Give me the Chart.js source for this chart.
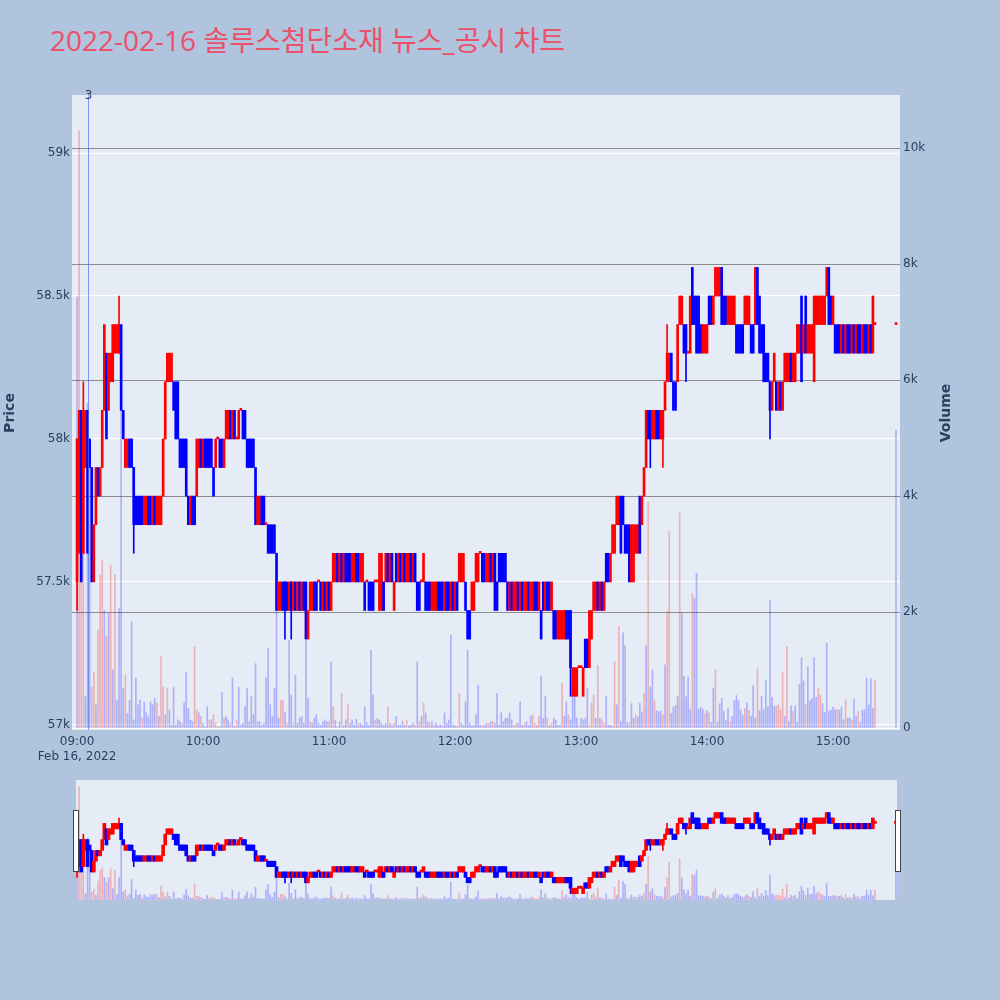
<!DOCTYPE html>
<html>
<head>
<meta charset="utf-8">
<script src="https://cdn.jsdelivr.net/npm/chart.js@4.4.1/dist/chart.umd.min.js"></script>
<style>
  html, body { margin: 0; padding: 0; background: #b0c4de; }
  #wrap { position: relative; width: 1000px; height: 1000px; }
  #title {
    position: absolute; left: 50px; top: 23px;
    font-family: "Open Sans", "Noto Sans CJK KR", sans-serif;
    font-size: 28px; line-height: 34px;
    color: rgb(235, 80, 105); white-space: nowrap;
  }
  canvas { position: absolute; left: 0; }
</style>
</head>
<body>
<div id="wrap">
  <div id="title">2022-02-16 솔루스첨단소재 뉴스_공시 차트</div>
  <canvas id="main" width="1000" height="775" style="top:0"></canvas>
  <canvas id="mini" width="1000" height="140" style="top:770px"></canvas>
</div>
<script>
// one candle per minute from 09:00 (index = minutes after 09:00)
const opens = [
  57500,57600,58100,57600,57900,58100,58000,57900,57500,57700,
  57900,57800,57900,58100,58300,58100,58200,58200,58300,58300,
  58300,58400,58100,57900,57900,58000,58000,57900,57800,57800,
  57800,57800,57700,57700,57800,57800,57700,57800,57700,57700,
  57700,57800,58000,58200,58200,58200,58200,58200,58200,58000,
  58000,58000,58000,57800,57700,57800,57800,57800,57900,58000,
  57900,58000,58000,58000,58000,57900,57900,58000,58000,58000,
  57900,58000,58000,58100,58000,58100,58000,58000,58100,58100,
  58100,58000,58000,58000,58000,57900,57700,57700,57800,57800,
  57700,57700,57700,57700,57700,57600,57400,57400,57500,57500,
  57500,57400,57500,57400,57500,57400,57500,57400,57500,57500,
  57300,57400,57400,57500,57500,57500,57500,57400,57500,57400,
  57500,57400,57500,57500,57600,57500,57600,57500,57600,57600,
  57600,57500,57500,57600,57600,57500,57500,57500,57500,57500,
  57500,57500,57500,57500,57400,57400,57500,57500,57600,57500,
  57600,57400,57600,57500,57600,57500,57600,57500,57500,57600,
  57500,57600,57500,57500,57500,57500,57500,57500,57500,57400,
  57400,57400,57500,57500,57500,57400,57500,57500,57400,57500,
  57400,57500,57500,57500,57500,57500,57400,57400,57400,57400,
  57500,57500,57600,57600,57600,57500,57500,57600,57500,57600,
  57500,57600,57600,57600,57600,57500,57400,57500,57400,57400,
  57500,57400,57500,57400,57400,57500,57400,57400,57500,57500,
  57400,57400,57500,57400,57500,57500,57400,57400,57400,57300,
  57300,57300,57300,57400,57400,57400,57100,57100,57100,57200,
  57200,57100,57300,57300,57200,57300,57400,57400,57500,57400,
  57500,57400,57600,57600,57500,57600,57600,57700,57700,57800,
  57800,57700,57700,57700,57500,57500,57600,57600,57800,57700,
  57800,57900,58100,58100,58000,58000,58100,58100,58000,58000,
  58100,58200,58200,58300,58200,58200,58200,58400,58400,58400,
  58400,58300,58300,58600,58500,58500,58500,58400,58300,58300,
  58300,58500,58500,58400,58500,58500,58500,58600,58500,58500,
  58400,58400,58400,58400,58400,58400,58400,58400,58400,58400,
  58400,58400,58400,58400,58600,58500,58400,58400,58300,58300,
  58200,58100,58200,58200,58100,58200,58100,58200,58200,58200,
  58300,58200,58200,58300,58300,58500,58300,58500,58300,58300,
  58300,58200,58400,58400,58400,58400,58400,58500,58600,58500,
  58400,58400,58400,58400,58300,58400,58300,58400,58400,58300,
  58400,58300,58400,58400,58300,58400,58400,58300,58400,58300,
  58400
];
const closes = [
  58000,58100,57500,58100,58100,57600,57900,57500,57700,57900,
  57800,57900,58100,58400,58000,58300,58300,58400,58400,58400,
  58400,58100,58000,58000,58000,57900,57900,57700,57700,57700,
  57700,57700,57800,57800,57700,57700,57800,57700,57800,57800,
  57800,58000,58200,58300,58300,58300,58100,58000,58000,57900,
  57900,57900,57800,57700,57800,57700,57700,58000,58000,57900,
  58000,57900,57900,57900,57900,57800,58000,58000,57900,57900,
  58000,58100,58100,58000,58100,58000,58000,58100,58100,58000,
  58000,57900,57900,57900,57900,57700,57800,57800,57700,57700,
  57700,57600,57600,57600,57600,57400,57500,57500,57400,57400,
  57400,57500,57400,57500,57400,57500,57400,57500,57400,57300,
  57400,57500,57500,57400,57400,57500,57400,57500,57400,57500,
  57400,57500,57600,57600,57500,57600,57500,57600,57500,57500,
  57500,57600,57600,57500,57500,57600,57600,57400,57500,57400,
  57400,57400,57500,57500,57600,57600,57400,57600,57500,57600,
  57500,57500,57500,57600,57500,57600,57500,57600,57600,57500,
  57600,57500,57400,57400,57500,57600,57400,57400,57400,57500,
  57500,57500,57400,57400,57400,57500,57400,57400,57500,57400,
  57500,57400,57600,57600,57600,57400,57300,57300,57500,57500,
  57600,57600,57600,57500,57500,57600,57600,57500,57600,57400,
  57400,57500,57500,57500,57500,57400,57500,57400,57500,57500,
  57400,57500,57400,57500,57500,57400,57500,57500,57400,57400,
  57500,57300,57400,57500,57400,57400,57500,57300,57300,57400,
  57400,57400,57400,57300,57300,57200,57200,57200,57200,57200,
  57200,57200,57200,57200,57400,57400,57500,57500,57400,57500,
  57400,57500,57500,57500,57600,57700,57700,57800,57800,57600,
  57700,57600,57600,57500,57700,57700,57700,57700,57600,57800,
  57900,58100,58000,58000,58100,58100,58000,58000,58100,58100,
  58200,58300,58300,58200,58100,58100,58400,58500,58500,58300,
  58300,58300,58500,58400,58400,58300,58300,58300,58400,58400,
  58400,58400,58400,58500,58600,58600,58600,58400,58400,58400,
  58500,58500,58500,58500,58300,58300,58300,58300,58500,58500,
  58500,58300,58300,58600,58400,58300,58300,58200,58200,58200,
  58100,58200,58300,58100,58200,58100,58200,58300,58300,58300,
  58200,58300,58300,58400,58400,58200,58400,58300,58400,58400,
  58400,58500,58500,58500,58500,58500,58500,58600,58400,58400,
  58500,58300,58300,58300,58400,58300,58400,58300,58300,58400,
  58300,58400,58300,58300,58400,58300,58300,58400,58300,58500,
  58400
];
const volumes = [
  7430,10300,3500,4800,540,5600,4900,
  700,960,400,1690,2640,2900,2030,1580,1980,2810,
  1000,2640,480,2060,6300,680,910,250,480,1830,
  140,860,400,480,170,450,260,200,450,400,
  510,430,200,1230,700,230,680,310,50,700,
  50,140,110,80,430,960,340,140,110,1400,
  310,260,200,80,20,370,140,140,230,80,
  20,20,610,170,200,140,80,860,30,140,
  700,50,80,370,680,110,540,230,1110,110,
  110,50,80,860,1370,400,200,680,2120,170,
  480,480,260,80,1510,570,80,910,80,170,
  200,80,1510,510,110,80,170,230,80,50,
  110,140,110,110,1140,370,140,20,110,600,
  50,140,
  400,80,140,50,150,80,80,50,370,90,
  50,1340,570,140,170,140,80,50,80,370,
  80,50,80,200,50,50,120,50,140,40,
  50,80,50,1140,110,200,430,260,110,80,
  110,50,80,40,60,40,260,80,140,1600,
  60,40,40,600,80,50,450,1340,80,40,
  50,230,740,50,40,50,80,80,110,120,
  80,600,50,260,110,170,170,260,140,50,
  80,80,450,50,80,110,50,200,230,80,
  50,200,890,170,540,170,50,80,170,140,
  50,50,780,200,450,230,140,680,540,170,
  50,170,140,170,680,50,430,570,170,1080,
  170,140,80,540,50,50,40,1140,400,1750,
  110,
  1640,1420,90,90,420,170,230,190,430,280,
  600,1420,3900,710,1000,470,300,280,290,230,
  1090,2010,3390,250,360,390,550,3710,1980,890,
  540,880,320,2320,2240,2670,320,360,320,250,
  300,260,100,690,1000,100,420,510,290,130,
  340,110,200,470,560,470,310,220,340,430,
  310,200,730,170,1020,300,550,320,830,370,
  2200,530,370,380,400,310,960,200,1400,110,
  380,290,380,100,750,1210,810,400,1060,470,
  510,1210,530,690,570,420,270,1460,290,310,
  360,320,320,310,360,140,490,170,180,140,
  490,200,290,100,310,320,860,400,850,340,
  830
];
// 1 = red (up) volume bar, 0 = blue
const volumeUp = [
  0,1,1,1,0,0,0,
  1,1,0,1,1,1,0,1,0,1,
  0,1,0,0,0,0,1,0,0,0,
  0,0,0,0,1,0,0,0,0,0,
  0,1,0,1,1,0,1,0,0,0,
  0,0,0,1,0,0,0,0,0,1,
  1,0,1,0,0,0,1,0,1,1,
  0,0,0,1,0,0,1,0,0,1,
  0,0,0,0,0,0,0,0,0,0,
  0,0,0,0,0,0,0,0,0,0,
  1,1,0,1,0,0,1,0,0,0,
  0,0,0,0,1,0,0,0,0,0,
  0,0,0,1,0,1,0,0,0,1,
  0,0,
  1,0,0,0,0,1,0,0,0,0,
  0,0,0,1,0,0,0,0,0,1,
  0,0,1,0,0,0,0,0,1,0,
  0,0,1,0,1,0,1,0,0,1,
  0,1,0,0,0,1,0,0,0,0,
  0,0,1,1,0,0,0,0,0,0,
  0,0,0,0,1,0,0,1,0,1,
  0,0,0,0,0,0,0,0,0,1,
  1,0,0,0,1,0,0,0,1,1,
  0,1,0,0,0,1,0,1,0,0,
  0,0,1,0,0,1,0,0,0,0,
  1,0,0,0,0,1,1,1,0,1,
  0,1,1,0,0,0,1,1,0,1,
  0,
  0,0,0,1,0,0,1,0,0,0,
  1,0,1,0,0,1,0,0,0,1,
  0,1,1,0,0,0,0,1,0,0,
  0,0,0,1,0,0,0,0,0,1,
  0,1,0,0,1,0,0,0,0,0,
  0,1,0,0,0,0,0,0,1,0,
  1,0,0,0,1,0,0,0,0,0,
  0,0,0,1,1,1,1,0,1,0,
  0,1,0,0,0,0,0,1,0,0,
  0,0,0,1,1,0,0,0,0,0,
  0,0,1,0,0,0,1,0,0,1,
  0,0,1,0,0,0,0,0,0,0,
  1
];
// wicks where high/low go past the body
const wickMinutes = [0, 3, 20, 27, 99, 102, 235, 273, 279, 281, 290, 330];
const wickLows    = [57400, 57600, 58300, 57600, 57300, 57300, 57100, 57900, 57900, 58200, 58200, 58000];
const wickHighs   = [58000, 58200, 58500, 57900, 57500, 57500, 57400, 58100, 58100, 58400, 58400, 58200];

// 15:30 closing auction
const auctionMinute = 390;
const auctionOpen = 58400;
const auctionClose = 58400;
const auctionVolume = 5140;
const auctionUp = 0;

// news marker
const newsMinute = 5.4;
const newsLabel = '3';

const timeTicks = [0, 60, 120, 180, 240, 300, 360];
const timeLabels = ['09:00', '10:00', '11:00', '12:00', '13:00', '14:00', '15:00'];
const dateLabel = 'Feb 16, 2022';
const priceTicks = [57000, 57500, 58000, 58500, 59000];
const priceLabels = ['57k', '57.5k', '58k', '58.5k', '59k'];
const volumeTicks = [0, 2000, 4000, 6000, 8000, 10000];
const volumeLabels = ['0', '2k', '4k', '6k', '8k', '10k'];

const RED = '#ff0000', BLUE = '#0000ff';
const VOL_RED = 'rgba(255,0,0,0.25)', VOL_BLUE = 'rgba(0,0,255,0.25)';
const TEXT = '#2a3f5f';
const FONT = '"DejaVu Sans", Verdana, sans-serif';

function buildDatasets(bodyWidth) {
  const bodies = opens.map((o, i) => ({x: i, y: [o, closes[i]]}));
  bodies.push({x: auctionMinute, y: [auctionOpen, auctionClose]});
  const vols = volumes.map((v, i) => ({x: i, y: v}));
  vols.push({x: auctionMinute, y: auctionVolume});
  const wicks = wickMinutes.map((m, i) => ({x: m, y: [wickLows[i], wickHighs[i]]}));
  return [
    {
      data: vols, yAxisID: 'yVol', grouped: false, order: 3,
      backgroundColor: volumeUp.concat([auctionUp]).map(u => u ? VOL_RED : VOL_BLUE),
      barThickness: 1
    },
    {
      data: wicks, yAxisID: 'yPrice', grouped: false, order: 2,
      backgroundColor: wickMinutes.map(m => closes[m] >= opens[m] ? RED : BLUE),
      barThickness: 1
    },
    {
      data: bodies, yAxisID: 'yPrice', grouped: false, order: 1,
      backgroundColor: bodies.map(p => p.y[1] >= p.y[0] ? RED : BLUE),
      barThickness: bodyWidth, minBarLength: 2
    }
  ];
}

const plotBg = {
  id: 'plotBg',
  beforeDraw(chart) {
    const {ctx, chartArea: a} = chart;
    ctx.save();
    ctx.fillStyle = '#e5ecf6';
    ctx.fillRect(a.left, a.top, a.right - a.left, a.bottom - a.top);
    ctx.restore();
  }
};

const mainExtras = {
  id: 'mainExtras',
  afterDraw(chart) {
    const {ctx, chartArea: a} = chart;
    const x = Math.round(chart.scales.x.getPixelForValue(newsMinute)) + 0.5;
    ctx.save();
    ctx.strokeStyle = 'rgba(80,110,240,0.7)';
    ctx.lineWidth = 1;
    ctx.beginPath();
    ctx.moveTo(x, a.top);
    ctx.lineTo(x, a.bottom);
    ctx.stroke();
    ctx.fillStyle = TEXT;
    ctx.font = '12px ' + FONT;
    ctx.textAlign = 'center';
    ctx.textBaseline = 'middle';
    ctx.fillText(newsLabel, x, a.top + 1);

    // axis titles
    ctx.font = 'bold 14px ' + FONT;
    ctx.translate(10, 413);
    ctx.rotate(-Math.PI / 2);
    ctx.fillText('Price', 0, 0);
    ctx.rotate(Math.PI / 2);
    ctx.translate(936, 0);
    ctx.rotate(-Math.PI / 2);
    ctx.fillText('Volume', 0, 0);
    ctx.restore();
  }
};

const sliderHandles = {
  id: 'sliderHandles',
  afterDraw(chart) {
    const ctx = chart.ctx;
    ctx.save();
    ctx.fillStyle = '#fff';
    ctx.strokeStyle = '#444';
    ctx.lineWidth = 1;
    [73.5, 895.5].forEach(x => {
      ctx.fillRect(x, 40.5, 5, 61);
      ctx.strokeRect(x, 40.5, 5, 61);
    });
    ctx.restore();
  }
};

const tickFont = {family: FONT, size: 12};

new Chart(document.getElementById('main'), {
  type: 'bar',
  data: {datasets: buildDatasets(2)},
  options: {
    responsive: false,
    animation: false,
    layout: {padding: {top: 95, left: 0, right: 0, bottom: 0}},
    plugins: {legend: {display: false}, tooltip: {enabled: false}},
    scales: {
      x: {
        type: 'linear', min: -2.4, max: 391.9, offset: false,
        grid: {display: false, drawTicks: false}, border: {display: false},
        afterBuildTicks: s => { s.ticks = timeTicks.map(v => ({value: v})); },
        afterFit: s => { s.height = 45; },
        ticks: {
          color: TEXT, font: tickFont, padding: 5, maxRotation: 0, autoSkip: false,
          callback: (v, i) => i === 0 ? [timeLabels[0], dateLabel] : timeLabels[i]
        }
      },
      yPrice: {
        position: 'left', min: 56982, max: 59203,
        border: {display: false},
        grid: {color: '#ffffff', lineWidth: 1, drawTicks: false},
        afterBuildTicks: s => { s.ticks = priceTicks.map(v => ({value: v})); },
        afterFit: s => { s.width = 72; },
        ticks: {color: TEXT, font: tickFont, padding: 2, callback: (v, i) => priceLabels[i]}
      },
      yVol: {
        position: 'right', min: -34, max: 10914,
        border: {display: false},
        grid: {
          color: c => c.tick && c.tick.value === 0 ? '#ffffff' : '#8c8c8c',
          lineWidth: 1, drawTicks: false
        },
        afterBuildTicks: s => { s.ticks = volumeTicks.map(v => ({value: v})); },
        afterFit: s => { s.width = 100; },
        ticks: {color: TEXT, font: tickFont, padding: 3, callback: (v, i) => volumeLabels[i]}
      }
    }
  },
  plugins: [plotBg, mainExtras]
});

new Chart(document.getElementById('mini'), {
  type: 'bar',
  data: {datasets: buildDatasets(3)},
  options: {
    responsive: false,
    animation: false,
    layout: {padding: {top: 10, left: 76, right: 103, bottom: 10}},
    plugins: {legend: {display: false}, tooltip: {enabled: false}},
    scales: {
      x: {type: 'linear', min: -0.5, max: 390.5, offset: false, display: false},
      yPrice: {position: 'left', min: 56982, max: 59203, display: false},
      yVol: {position: 'right', min: -34, max: 10914, display: false}
    }
  },
  plugins: [plotBg, sliderHandles]
});
</script>
</body>
</html>
